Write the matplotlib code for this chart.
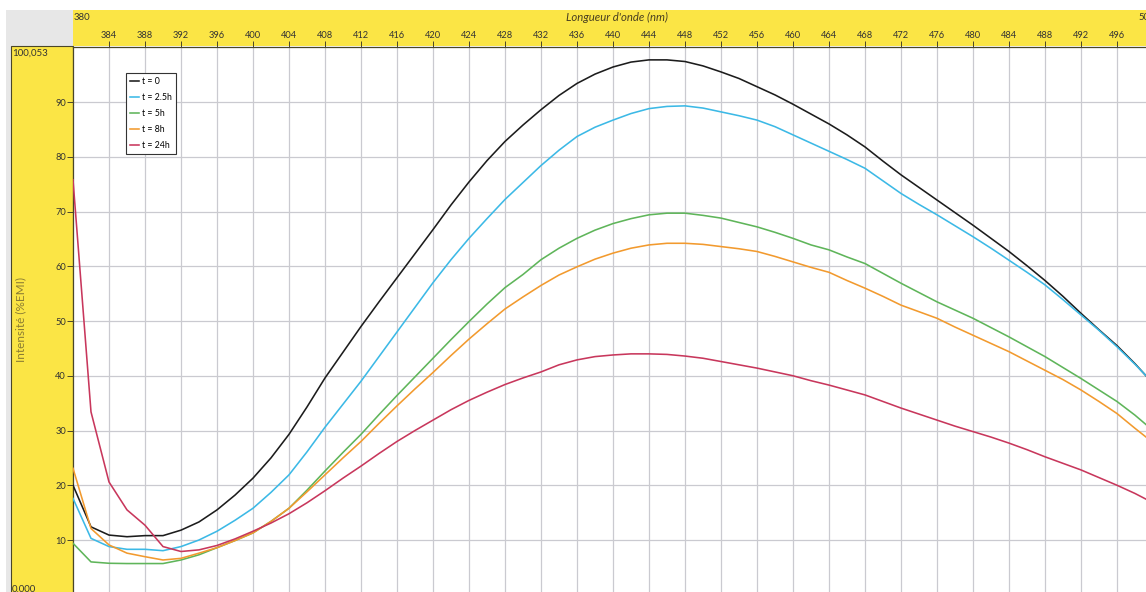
"""
Emission spectra (Intensité %EMI vs Longueur d'onde) at several times.
Recreates the spectrometer-software look: yellow axis bands, grid, small legend.
"""
import matplotlib
matplotlib.use("Agg")
import matplotlib.pyplot as plt
from matplotlib.patches import Rectangle

W, H = 1146, 592

wavelength = list(range(380, 502, 2))

t0 = [20.0, 12.4, 10.9, 10.6, 10.8, 10.8, 11.8, 13.3, 15.5, 18.2,
      21.3, 25.0, 29.3, 34.3, 39.6, 44.3, 49.0, 53.5, 57.9, 62.3,
      66.7, 71.2, 75.4, 79.3, 82.8, 85.8, 88.6, 91.2, 93.4, 95.1,
      96.4, 97.3, 97.7, 97.7, 97.4, 96.6, 95.5, 94.3, 92.8, 91.3,
      89.6, 87.8, 86.0, 84.0, 81.8, 79.2, 76.7, 74.4, 72.1, 69.8,
      67.5, 65.1, 62.7, 60.1, 57.4, 54.5, 51.4, 48.4, 45.5, 42.2, 38.6]
t2_5 = [17.6, 10.3, 8.8, 8.3, 8.3, 8.05, 8.8, 10.0, 11.6, 13.6,
        15.8, 18.7, 21.9, 26.1, 30.6, 34.8, 39.0, 43.5, 48.0, 52.5,
        57.0, 61.2, 65.1, 68.7, 72.2, 75.3, 78.4, 81.2, 83.7, 85.4,
        86.7, 87.9, 88.8, 89.2, 89.3, 88.9, 88.2, 87.5, 86.7, 85.5,
        84.0, 82.5, 81.0, 79.5, 77.9, 75.6, 73.3, 71.3, 69.4, 67.4,
        65.4, 63.3, 61.1, 58.9, 56.6, 53.9, 51.1, 48.3, 45.3, 42.1, 38.7]
t5 = [9.4, 6.0, 5.75, 5.7, 5.7, 5.7, 6.35, 7.3, 8.6, 9.9,
      11.3, 13.4, 15.8, 19.1, 22.6, 26.0, 29.3, 32.9, 36.4, 39.8,
      43.2, 46.6, 49.9, 53.1, 56.1, 58.5, 61.2, 63.3, 65.1, 66.6,
      67.8, 68.7, 69.4, 69.7, 69.7, 69.3, 68.8, 68.0, 67.2, 66.2,
      65.1, 63.9, 63.0, 61.7, 60.5, 58.7, 56.9, 55.2, 53.5, 52.0,
      50.5, 48.8, 47.1, 45.3, 43.5, 41.5, 39.5, 37.4, 35.3, 32.8, 30.0]
t8 = [23.1, 12.1, 9.1, 7.6, 6.95, 6.35, 6.65, 7.6, 8.6, 9.9,
      11.3, 13.4, 15.8, 18.8, 21.9, 25.0, 28.0, 31.3, 34.5, 37.6,
      40.6, 43.7, 46.7, 49.5, 52.2, 54.4, 56.5, 58.4, 59.9, 61.3,
      62.4, 63.3, 63.9, 64.2, 64.2, 64.0, 63.6, 63.2, 62.7, 61.8,
      60.8, 59.8, 58.9, 57.4, 56.0, 54.5, 52.9, 51.7, 50.5, 48.9,
      47.4, 45.9, 44.4, 42.7, 41.0, 39.3, 37.4, 35.3, 33.1, 30.4, 27.8]
t24 = [75.8, 33.4, 20.6, 15.5, 12.7, 8.8, 7.9, 8.2, 9.0, 10.2,
       11.6, 13.1, 14.8, 16.8, 19.0, 21.3, 23.5, 25.8, 28.0, 30.0,
       31.9, 33.8, 35.5, 37.0, 38.4, 39.6, 40.7, 42.0, 42.9, 43.5,
       43.8, 44.0, 44.0, 43.9, 43.6, 43.2, 42.6, 42.0, 41.4, 40.7,
       40.0, 39.1, 38.3, 37.4, 36.5, 35.3, 34.1, 33.0, 31.9, 30.8,
       29.8, 28.8, 27.7, 26.5, 25.2, 24.0, 22.8, 21.4, 20.0, 18.5, 16.8]

series = [t0, t2_5, t5, t8, t24]
labels = ["t = 0", "t = 2.5h", "t = 5h", "t = 8h", "t = 24h"]
colors = ["#1c1c1c", "#3cb9e6", "#5fb55a", "#f29a2e", "#c8375c"]

x_ticks = list(range(384, 500, 4))
y_ticks = list(range(10, 100, 10))

YELLOW = "#fbe545"
GRAY = "#e7e7e7"
DARK = "#4a4628"
FONT = ["Lato", "DejaVu Sans"]


def fx(px):
    return px / W


def fy(py):
    return 1 - py / H


def fig_rect(fig, x0, y0, x1, y1, color, **kw):
    # drawn below the axes (zorder -1) so tick labels stay visible
    fig.patches.append(Rectangle((fx(x0), fy(y1)), fx(x1) - fx(x0), fy(y0) - fy(y1),
                                 transform=fig.transFigure, facecolor=color,
                                 edgecolor=kw.pop("edgecolor", "none"), zorder=-1, **kw))


def main():
    plt.rcParams["font.family"] = FONT
    fig = plt.figure(figsize=(W / 100, H / 100), dpi=100)

    # software frame: gray corner, yellow axis bands
    fig_rect(fig, 6, 10, 73, H + 5, GRAY)
    fig_rect(fig, 73, 10, W + 5, 46, YELLOW)
    fig_rect(fig, 11, 46, 73, H + 5, YELLOW, edgecolor=DARK, linewidth=0.8)

    # plot area: 380 -> px 73, 500 -> px 1153 ; 100.053 -> px 47, 0 -> px 594.75
    ax = fig.add_axes([fx(73), fy(594.75), fx(1153) - fx(73), fy(47) - fy(594.75)])
    ax.set_xlim(380, 500)
    ax.set_ylim(0, 100.053)

    for y, lab, c in zip(series, labels, colors):
        ax.plot(wavelength, y, color=c, lw=1.15, label=lab, zorder=3)

    ax.set_xticks(x_ticks)
    ax.set_yticks(y_ticks)
    ax.grid(True, color="#cacad0", lw=0.9)
    ax.set_axisbelow(True)
    ax.xaxis.tick_top()
    ax.tick_params(axis="x", direction="out", length=4, width=0.7, color=DARK,
                   labelsize=6.7, labelcolor="#333333", pad=1)
    ax.tick_params(axis="y", direction="out", length=4, width=0.7, color=DARK,
                   labelsize=6.7, labelcolor="#333333", pad=1)
    for s in ["right", "bottom"]:
        ax.spines[s].set_visible(False)
    for s in ["left", "top"]:
        ax.spines[s].set_color(DARK)
        ax.spines[s].set_linewidth(0.9)

    # corner values and axis titles
    fig.text(fx(74), fy(17), "380", fontsize=6.8, color="#333333", va="center", ha="left")
    fig.text(fx(1155), fy(17), "500", fontsize=6.8, color="#333333", va="center", ha="right")
    fig.text(fx(617), fy(17), "Longueur d'onde (nm)", fontsize=8.2, style="italic",
             color="#4a4020", va="center", ha="center")
    fig.text(fx(12), fy(53), "100,053", fontsize=7, color="#333333", va="center", ha="left")
    fig.text(fx(12), fy(589), "0,000", fontsize=7, color="#333333", va="center", ha="left")
    fig.text(fx(21), fy(319), "Intensité (%EMI)", fontsize=8.5, rotation=90,
             color="#8a7c33", va="center", ha="center")

    leg = ax.legend(loc="upper left", bbox_to_anchor=(fx(126), fy(73)),
                    bbox_transform=fig.transFigure, fontsize=6.3, frameon=True,
                    fancybox=False, framealpha=1, edgecolor="#333333",
                    handlelength=1.0, handletextpad=0.3, labelspacing=0.78,
                    borderpad=0.5, borderaxespad=0)
    leg.get_frame().set_linewidth(0.8)

    fig.savefig("out.png", dpi=100)


if __name__ == "__main__":
    main()
